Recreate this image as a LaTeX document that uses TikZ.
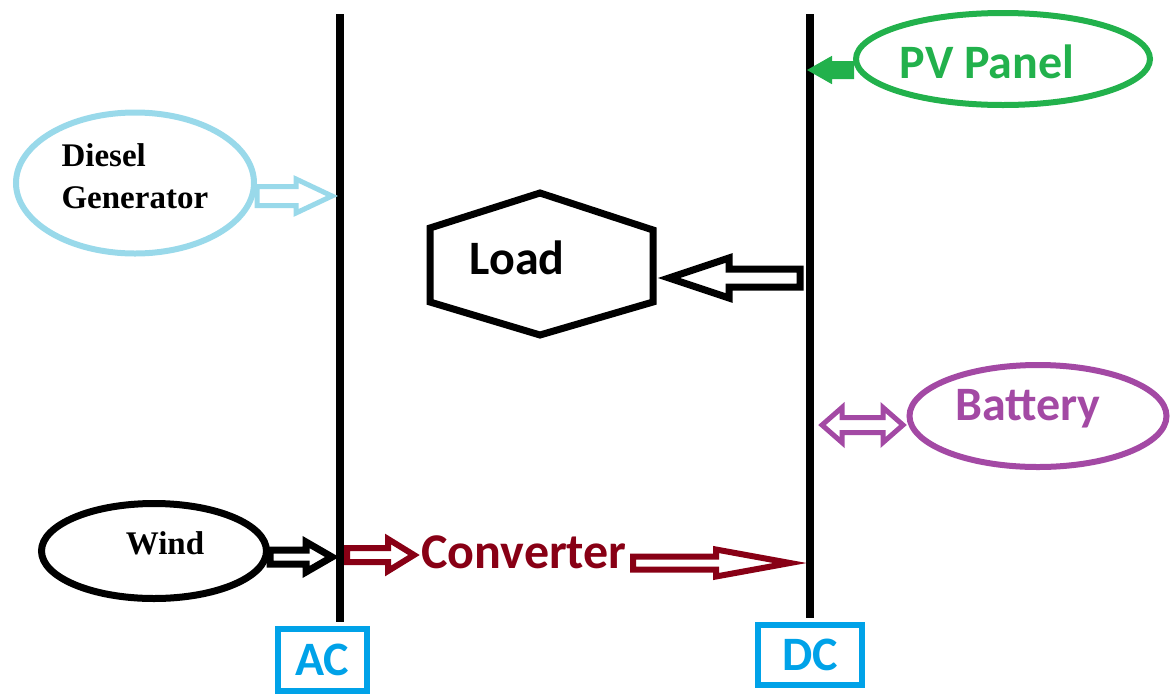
\documentclass[tikz,border=0pt]{standalone}
\usepackage{fontspec}
\setmainfont{Carlito}
\newfontfamily\timesfont{Liberation Serif}
\usetikzlibrary{calc,shapes.geometric}
\definecolor{colorGreen}{HTML}{22B14C}
\definecolor{colorPurple}{HTML}{A349A4}
\definecolor{colorSky}{HTML}{99D9EA}
\definecolor{colorWine}{HTML}{880015}
\definecolor{colorCyan}{HTML}{00A2E8}
\def\colorGreen{colorGreen}
\def\colorPurple{colorPurple}

% block arrow: style, from, to, shaft half, head half, head length
\newcommand{\blockarrow}[6]{%
  \draw[#1] let \p1=(#2), \p2=(#3), \n1={ifthenelse(\x2>\x1,1,-1)} in
    (\x1,{\y1+#4}) -- ({\x2-(\n1)*#6},{\y1+#4}) -- ({\x2-(\n1)*#6},{\y1+#5})
    -- (\x2,\y1) -- ({\x2-(\n1)*#6},{\y1-#5}) -- ({\x2-(\n1)*#6},{\y1-#4})
    -- (\x1,{\y1-#4}) -- cycle;}
% two headed block arrow, left to right
\newcommand{\twinarrow}[6]{%
  \draw[#1] let \p1=(#2), \p2=(#3) in
    (\x1,\y1) -- ({\x1+#6},{\y1+#5}) -- ({\x1+#6},{\y1+#4})
    -- ({\x2-#6},{\y1+#4}) -- ({\x2-#6},{\y1+#5}) -- (\x2,\y1)
    -- ({\x2-#6},{\y1-#5}) -- ({\x2-#6},{\y1-#4})
    -- ({\x1+#6},{\y1-#4}) -- ({\x1+#6},{\y1-#5}) -- cycle;}

\begin{document}
\begin{tikzpicture}[x=1pt,y=-1pt,
  bus/.style={line width=8pt},
  busbox/.style={draw=colorCyan,line width=6pt,text=colorCyan,inner sep=0pt,
    font=\fontsize{48}{52}\selectfont\bfseries},
  source/.style={ellipse,line width=6pt,inner sep=0pt},
  bigtext/.style={font=\fontsize{48}{52}\selectfont\bfseries},
  serifbold/.style={font=\timesfont\bfseries\fontsize{33}{42}\selectfont}]

  \useasboundingbox (0,0) rectangle (1172,694);

  % Bus bars
  \coordinate (acTop) at (340,14);
  \coordinate (acBot) at (340,622);
  \coordinate (dcTop) at (810,14);
  \coordinate (dcBot) at (810,618);
  \draw[bus] (acTop) -- (acBot);
  \draw[bus] (dcTop) -- (dcBot);

  \node[busbox,minimum width=89pt,minimum height=62pt] (ac) at (322,660) {AC};
  \node[busbox,minimum width=104pt,minimum height=60pt] (dc) at (810,655) {DC};

  % Sources
  \node[source,draw=colorSky,minimum width=238pt,minimum height=141pt] (diesel) at (135,183) {};
  \node[align=left,serifbold,anchor=north west] (dieselText) at (58,140) {Diesel\\Generator};
  \node[source,draw=black,line width=7pt,minimum width=225pt,minimum height=95pt] (wind) at (154,551) {};
  \node[serifbold] (windText) at (165,543) {Wind};
  \node[source,draw=\colorGreen,minimum width=294pt,minimum height=92pt] (pv) at (1003,59) {};
  \node[bigtext,text=\colorGreen] (pvText) at (987,62) {PV Panel};
  \node[source,draw=\colorPurple,minimum width=257pt,minimum height=102pt] (battery) at (1038,416) {};
  \node[bigtext,text=\colorPurple] (batteryText) at (1028,409) {Battery};

  % Load
  \draw[line width=7pt] (540,193) -- (653,230) -- (653,302) -- (540,335)
    -- (430,302) -- (430,228) -- cycle;
  \node[bigtext] (load) at (517,258) {Load};

  % Converter
  \node[text=colorWine,font=\fontsize{50}{54}\selectfont\bfseries] (conv)
    at (524,552) {Converter};

  % arrow ends
  \coordinate (acDiesel) at (332,196);
  \coordinate (acWind) at (332,557);
  \coordinate (acConv) at (347,555);
  \coordinate (convIn) at (414,555);
  \coordinate (convOut) at (633,563);
  \coordinate (dcConv) at (790,563);
  \coordinate (dcLoad) at (800,278);
  \coordinate (loadIn) at (669,278);
  \coordinate (dcPV) at (809,70);
  \coordinate (dcBat) at (822,425);
  \coordinate (batIn) at (903,425);

  \blockarrow{draw=colorSky,fill=white,line width=5pt}{diesel.east |- acDiesel}{acDiesel}{9.5pt}{17pt}{36pt}
  \blockarrow{draw=black,fill=white,line width=7pt}{wind.east |- acWind}{acWind}{7pt}{15pt}{26pt}
  \blockarrow{draw=colorWine,fill=white,line width=6pt}{acConv}{convIn}{7pt}{16pt}{26pt}
  \blockarrow{draw=colorWine,fill=white,line width=6pt}{convOut}{dcConv}{6.5pt}{13.5pt}{74pt}
  \blockarrow{draw=black,fill=white,line width=7pt}{dcLoad}{loadIn}{9pt}{20pt}{60pt}
  \blockarrow{draw=\colorGreen,fill=\colorGreen,line width=2pt}{pv.west |- dcPV}{dcPV}{8pt}{12.5pt}{22pt}
  \twinarrow{draw=\colorPurple,fill=white,line width=5pt}{dcBat}{batIn}{7.5pt}{17.5pt}{20pt}

\end{tikzpicture}
\end{document}
